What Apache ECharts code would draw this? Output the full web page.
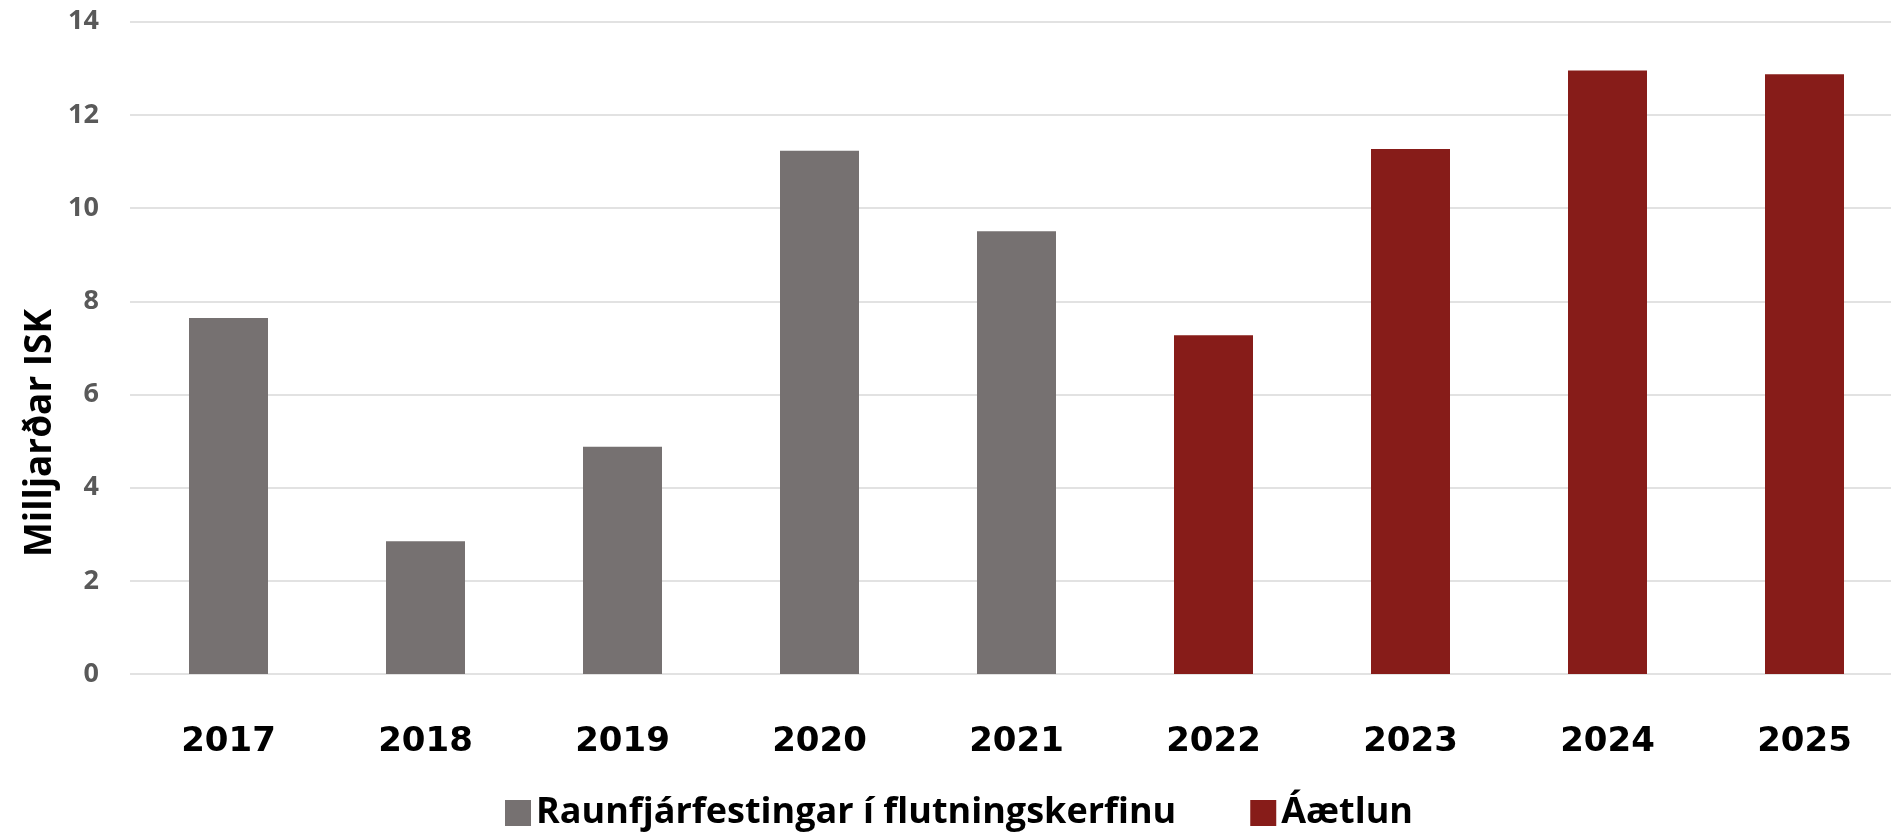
<!DOCTYPE html>
<html>
<head>
<meta charset="utf-8">
<script src="https://cdn.jsdelivr.net/npm/echarts@6/dist/echarts.min.js"></script>
<style>
html,body{margin:0;padding:0;background:#fff;}
#chart{width:1891px;height:836px;}
</style>
</head>
<body>
<div id="chart"></div>
<script>
const categories = ['2017','2018','2019','2020','2021','2022','2023','2024','2025'];
const actualValues = [7.64, 2.85, 4.88, 11.23, 9.50, null, null, null, null];
const planValues = [null, null, null, null, null, 7.27, 11.27, 12.95, 12.87];
const seriesNames = ['Raunfjárfestingar í flutningskerfinu', 'Áætlun'];
const yTicks = [0, 2, 4, 6, 8, 10, 12, 14];
const yAxisTitle = 'Milljarðar ISK';

const FONT = '"Open Sans", Lato, sans-serif';
const chart = echarts.init(document.getElementById('chart'));
chart.setOption({
  animation: false,
  backgroundColor: '#ffffff',
  grid: { left: 130, width: 1773, top: 21.7, bottom: 162, containLabel: false, outerBoundsMode: 'none' },
  xAxis: {
    type: 'category',
    data: categories,
    axisLine: { show: false },
    axisTick: { show: false },
    axisLabel: { margin: 51, color: '#000000', fontSize: 34, fontWeight: 'bold', fontFamily: '"DejaVu Sans", sans-serif' }
  },
  yAxis: {
    type: 'value',
    min: yTicks[0],
    max: yTicks[yTicks.length - 1],
    interval: 2,
    axisLine: { show: false },
    axisTick: { show: false },
    axisLabel: { margin: 31, color: '#595959', fontSize: 27, fontWeight: 'bold', fontFamily: FONT },
    splitLine: { lineStyle: { color: '#d9d9d9', width: 1.5 } }
  },
  legend: {
    top: 790,
    left: 500,
    icon: 'rect',
    itemWidth: 26,
    itemHeight: 26,
    itemGap: 74,
    textStyle: { color: '#000000', fontSize: 36, fontWeight: 'bold', fontFamily: FONT },
    data: seriesNames
  },
  graphic: [{
    type: 'text',
    x: 40,
    y: 433,
    rotation: Math.PI / 2,
    style: {
      text: yAxisTitle,
      fill: '#000000',
      font: 'bold 37px ' + FONT,
      align: 'center',
      verticalAlign: 'middle'
    }
  }],
  series: [
    { name: seriesNames[0], type: 'bar', stack: 'total', barWidth: 79, data: actualValues, itemStyle: { color: '#767171' } },
    { name: seriesNames[1], type: 'bar', stack: 'total', barWidth: 79, data: planValues, itemStyle: { color: '#871c19' } }
  ]
});
</script>
</body>
</html>
